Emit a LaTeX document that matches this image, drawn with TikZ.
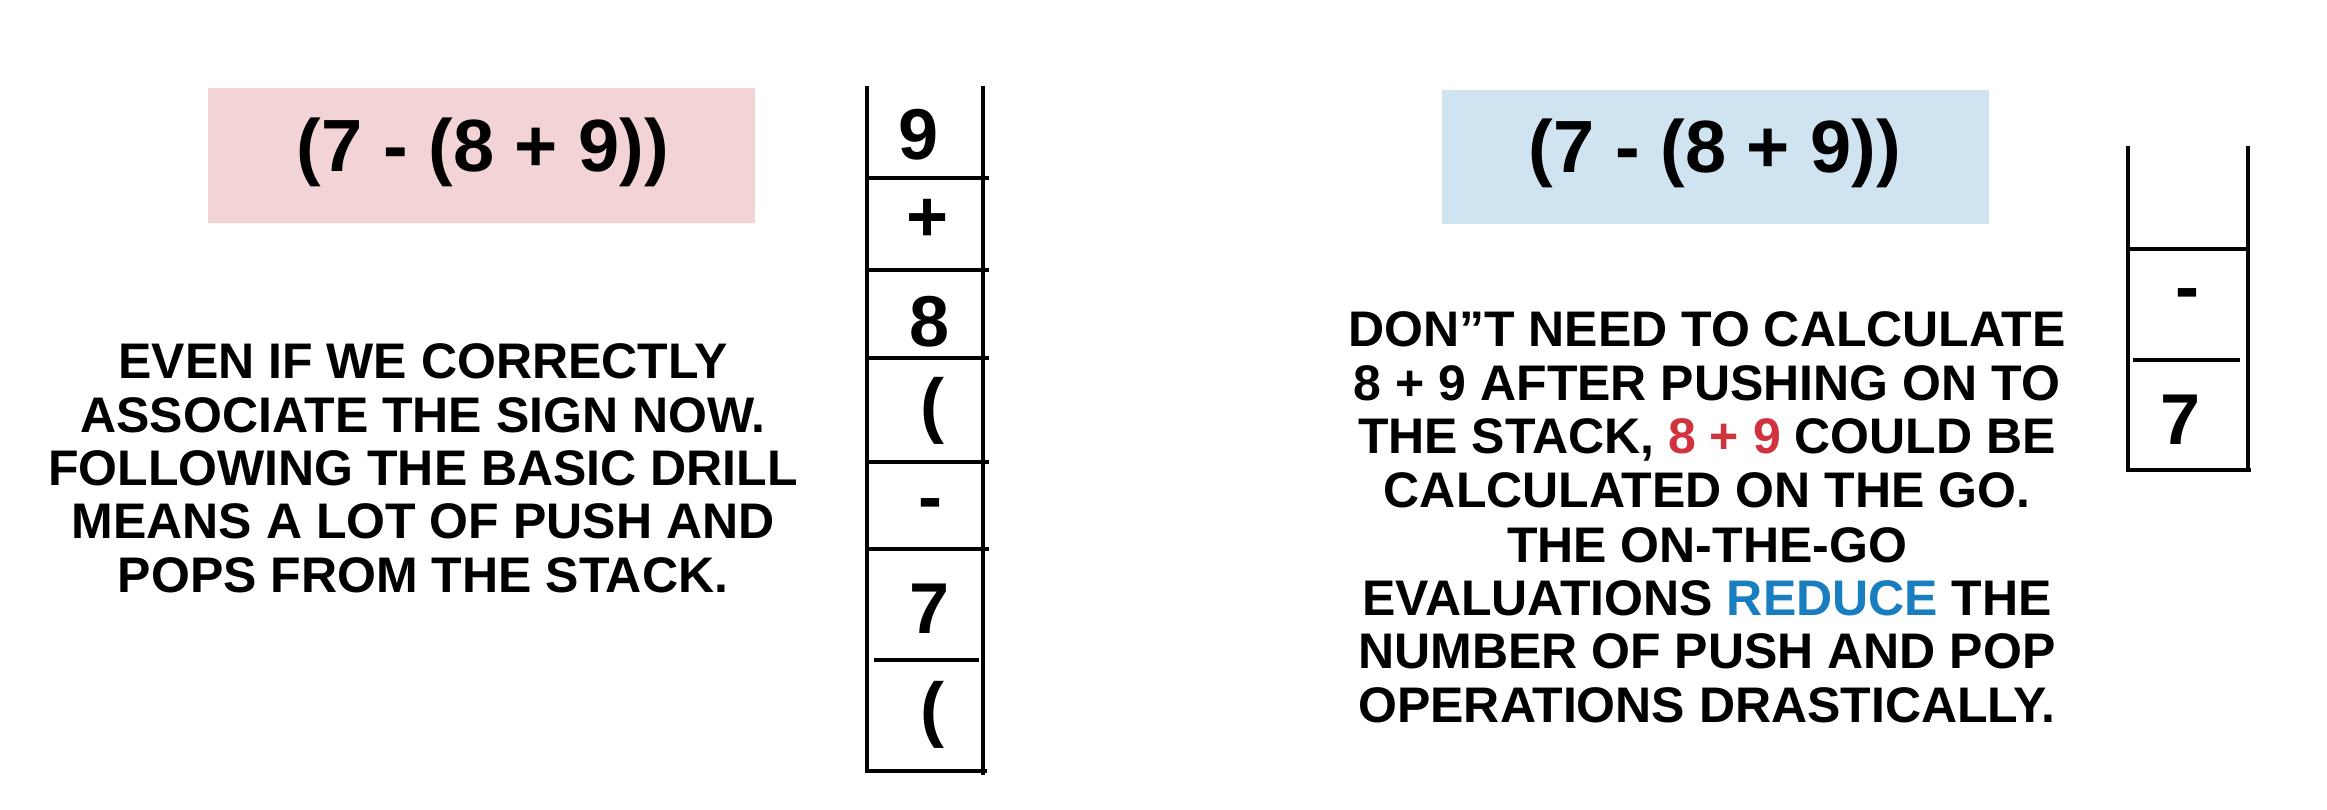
\documentclass[tikz,border=0pt]{standalone}
\usepackage{fontspec}
\setmainfont{Liberation Sans}
\definecolor{pinkbox}{RGB}{242,212,215}
\definecolor{bluebox}{RGB}{207,228,240}
\definecolor{hired}{RGB}{208,50,62}
\definecolor{hiblue}{RGB}{24,126,192}
\tikzset{
  body/.style={font=\bfseries\fontsize{50}{54}\selectfont, anchor=base, inner sep=0pt},
  titletext/.style={font=\bfseries\fontsize{74}{80}\selectfont, anchor=base, inner sep=0pt},
  entry/.style={font=\bfseries\fontsize{72}{78}\selectfont, anchor=base, inner sep=0pt},
  stackline/.style={line width=3.5pt, line cap=rect}
}
\begin{document}
\begin{tikzpicture}[x=1pt,y=-1pt]
\useasboundingbox (0,0) rectangle (2327,810);
% title boxes
\fill[pinkbox] (208,88) rectangle (755,223);
\fill[bluebox] (1442,90) rectangle (1989,224);
\node[titletext] (tleft) at (483,172) {(7 - (8 + 9))};
\node[titletext] (tright) at (1715,173) {(7 - (8 + 9))};
% left text
\node[body] (l1) at (423,378) {EVEN IF WE CORRECTLY};
\node[body] (l2) at (423,432) {ASSOCIATE THE SIGN NOW.};
\node[body] (l3) at (423,485) {FOLLOWING THE BASIC DRILL};
\node[body] (l4) at (423,538) {MEANS A LOT OF PUSH AND};
\node[body] (l5) at (423,592) {POPS FROM THE STACK.};
% right text
\node[body] (r1) at (1707,347) {DON”T NEED TO CALCULATE};
\node[body] (r2) at (1707,400) {8 + 9 AFTER PUSHING ON TO};
\node[body] (r3) at (1707,453) {THE STACK, \textcolor{hired}{8 + 9} COULD BE};
\node[body] (r4) at (1707,507) {CALCULATED ON THE GO.};
\node[body] (r5) at (1707,562) {THE ON-THE-GO};
\node[body] (r6) at (1707,615) {EVALUATIONS \textcolor{hiblue}{REDUCE} THE};
\node[body] (r7) at (1707,668) {NUMBER OF PUSH AND POP};
\node[body] (r8) at (1707,722) {OPERATIONS DRASTICALLY.};
% left stack
\draw[stackline] (867,88) -- (867,771) -- (985,771);
\draw[stackline] (983,88) -- (983,773);
\draw[stackline] (870,178) -- (987,178);
\draw[stackline] (870,270) -- (987,270);
\draw[stackline] (870,358) -- (987,358);
\draw[stackline] (870,462) -- (987,462);
\draw[stackline] (870,549) -- (987,549);
\draw[stackline] (876,660) -- (977,660);
\node[entry] (s1) at (919,160) {9};
\node[entry] (s2) at (928,242) {+};
\node[entry] (s3) at (930,347) {8};
\node[entry] (s4) at (932,429) {(};
\node[entry] (s5) at (930,521) {-};
\node[entry] (s6) at (930,633) {7};
\node[entry] (s7) at (932,733) {(};
% right stack
\draw[stackline] (2128,148) -- (2128,470) -- (2249,470);
\draw[stackline] (2248,148) -- (2248,470);
\draw[stackline] (2132,249) -- (2247,249);
\draw[stackline] (2135,360) -- (2238,360);
\node[entry] (q1) at (2187,312) {-};
\node[entry] (q2) at (2180,444) {7};
\end{tikzpicture}
\end{document}
